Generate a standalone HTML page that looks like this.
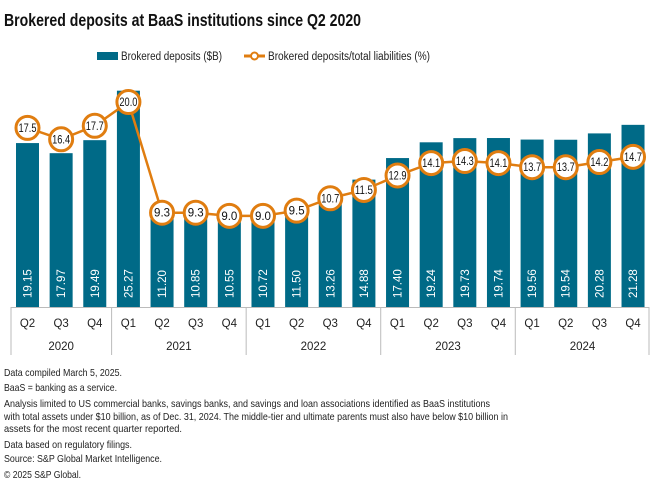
<!DOCTYPE html>
<html><head><meta charset="utf-8"><style>
html,body{margin:0;padding:0;background:#fff;}
svg{display:block;font-family:"Liberation Sans",sans-serif;}
</style></head><body>
<svg id="chart" width="660" height="491" viewBox="0 0 660 491">
<text x="4" y="26" font-size="17.5" font-weight="bold" fill="#111" textLength="357" lengthAdjust="spacingAndGlyphs">Brokered deposits at BaaS institutions since Q2 2020</text>
<g>
<g>
<rect x="97" y="52" width="21" height="8" fill="#006a87"/>
<text x="121" y="60" font-size="11.5" fill="#222" textLength="101" lengthAdjust="spacingAndGlyphs">Brokered deposits ($B)</text>
</g>
<g>
<line x1="244" y1="56" x2="265" y2="56" stroke="#e07d10" stroke-width="3"/>
<circle cx="254.5" cy="56" r="3.5" fill="#fff" stroke="#e07d10" stroke-width="2"/>
<text x="268" y="60" font-size="11.5" fill="#222" textLength="162" lengthAdjust="spacingAndGlyphs">Brokered deposits/total liabilities (%)</text>
</g>
</g>
<g id="bars"></g>
<g id="axis"></g>
<g id="line"></g>
<g font-size="10.5" fill="#222">
<text x="4" y="376" textLength="118" lengthAdjust="spacingAndGlyphs">Data compiled March 5, 2025.</text>
<text x="4" y="391" textLength="113" lengthAdjust="spacingAndGlyphs">BaaS = banking as a service.</text>
<text x="4" y="407" textLength="486" lengthAdjust="spacingAndGlyphs">Analysis limited to US commercial banks, savings banks, and savings and loan associations identified as BaaS institutions</text>
<text x="4" y="420" textLength="504" lengthAdjust="spacingAndGlyphs">with total assets under $10 billion, as of Dec. 31, 2024. The middle-tier and ultimate parents must also have below $10 billion in</text>
<text x="4" y="432" textLength="178" lengthAdjust="spacingAndGlyphs">assets for the most recent quarter reported.</text>
<text x="4" y="448" textLength="128" lengthAdjust="spacingAndGlyphs">Data based on regulatory filings.</text>
<text x="4" y="462" textLength="158" lengthAdjust="spacingAndGlyphs">Source: S&amp;P Global Market Intelligence.</text>
<text x="4" y="478" textLength="77" lengthAdjust="spacingAndGlyphs">© 2025 S&amp;P Global.</text>
</g>
</svg>
<script>
const quarters = ["Q2","Q3","Q4","Q1","Q2","Q3","Q4","Q1","Q2","Q3","Q4","Q1","Q2","Q3","Q4","Q1","Q2","Q3","Q4"];
const years = ["2020","2021","2022","2023","2024"];
const yearCounts = [3,4,4,4,4];
const deposits = [19.15,17.97,19.49,25.27,11.20,10.85,10.55,10.72,11.50,13.26,14.88,17.40,19.24,19.73,19.74,19.56,19.54,20.28,21.28];
const ratio = [17.5,16.4,17.7,20.0,9.3,9.3,9.0,9.0,9.5,10.7,11.5,12.9,14.1,14.3,14.1,13.7,13.7,14.2,14.7];

const NS="http://www.w3.org/2000/svg";
const base=307, x0=27.5, step=33.64, bw=23;
const xPos=i=>x0+i*step;
const yBar=v=>base-v*8.56;
const yLine=v=>309-v*10.35;
function mk(tag,attrs,parent){const e=document.createElementNS(NS,tag);for(const k in attrs)e.setAttribute(k,attrs[k]);parent.appendChild(e);return e;}
const gb=document.getElementById('bars'),ga=document.getElementById('axis'),gl=document.getElementById('line');
deposits.forEach((v,i)=>{
  const r=mk('rect',{x:xPos(i)-bw/2,y:yBar(v),width:bw,height:base-yBar(v),fill:'#006a87'},gb);
  
  
  const t=mk('text',{x:0,y:0,transform:`translate(${xPos(i)+4},298) rotate(-90)`,'font-size':11.5,fill:'#fff'},gb);
  t.textContent=v.toFixed(2);
  
  
});
mk('line',{x1:11,y1:base+0.5,x2:649,y2:base+0.5,stroke:'#bbb','stroke-width':1},ga);
let idx=0;
const sepX=i=>xPos(i)-step/2;
mk('line',{x1:11,y1:base,x2:11,y2:355,stroke:'#bbb'},ga);
yearCounts.forEach((c,k)=>{
  const start=idx, end=idx+c-1;
  const xr=k===yearCounts.length-1?649:sepX(end+1);
  mk('line',{x1:xr,y1:base,x2:xr,y2:355,stroke:'#bbb'},ga);
  const cx=(xPos(start)+xPos(end))/2;
  const yt=mk('text',{x:cx,y:350,'text-anchor':'middle','font-size':11.5,fill:'#222'},ga);
  yt.textContent=years[k];
  
  
  idx+=c;
});
quarters.forEach((q,i)=>{
  const t=mk('text',{x:xPos(i),y:327,'text-anchor':'middle','font-size':11.5,fill:'#222'},ga);
  t.textContent=q;
  
  
});
const pts=ratio.map((v,i)=>xPos(i)+','+yLine(v)).join(' ');
const pl=mk('polyline',{points:pts,fill:'none',stroke:'#e07d10','stroke-width':2.5},gl);


ratio.forEach((v,i)=>{
  const c=mk('circle',{cx:xPos(i),cy:yLine(v),r:11.5,fill:'#fff',stroke:'#e07d10','stroke-width':3},gl);
  
  
  const label=v.toFixed(1);
  const attrs={x:xPos(i),y:yLine(v)+4,'text-anchor':'middle','font-size':11.5,fill:'#111'};
  if(label.length>3){attrs.textLength=18;attrs.lengthAdjust='spacingAndGlyphs';}
  const t=mk('text',attrs,gl);
  t.textContent=label;
  
  
});
</script>
</body></html>
